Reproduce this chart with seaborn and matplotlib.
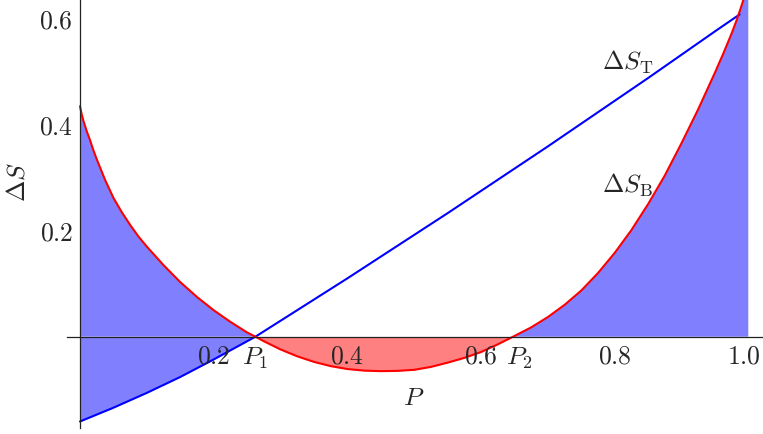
import numpy as np
import matplotlib
matplotlib.use("Agg")
import matplotlib.pyplot as plt
import matplotlib.transforms as mtransforms
import seaborn as sns

# values (P on x, Delta S on y)
p_red = [0.0, 0.0025, 0.005, 0.01, 0.015, 0.02, 0.025, 0.0375, 0.05, 0.0625, 0.075, 0.0875,
         0.10, 0.125, 0.15, 0.175, 0.20, 0.225, 0.25, 0.2625, 0.275, 0.30, 0.325, 0.35,
         0.375, 0.40, 0.425, 0.45, 0.475, 0.50, 0.525, 0.55, 0.575, 0.60, 0.625, 0.648,
         0.675, 0.70, 0.725, 0.75, 0.775, 0.80, 0.825, 0.85, 0.875, 0.90, 0.925, 0.95,
         0.9625, 0.975, 0.9825, 0.99, 0.995, 1.0]
ds_b = [0.435, 0.420, 0.408, 0.388, 0.371, 0.352, 0.335, 0.296, 0.262, 0.235, 0.211, 0.189,
        0.170, 0.135, 0.103, 0.075, 0.050, 0.028, 0.008, 0.0, -0.0085, -0.024, -0.037, -0.0475,
        -0.0555, -0.061, -0.064, -0.065, -0.0645, -0.0625, -0.057, -0.049, -0.040, -0.029, -0.0145, 0.0,
        0.0175, 0.037, 0.060, 0.087, 0.120, 0.158, 0.201, 0.250, 0.304, 0.365, 0.429, 0.498,
        0.534, 0.572, 0.597, 0.625, 0.645, 0.665]

p_blue = [0.0, 0.05, 0.10, 0.15, 0.20, 0.2625, 0.30, 0.35, 0.40, 0.45, 0.50, 0.55,
          0.60, 0.65, 0.70, 0.75, 0.80, 0.85, 0.90, 0.95, 0.987]
ds_t = [-0.160, -0.134, -0.106, -0.076, -0.043, 0.0, 0.030, 0.070, 0.110, 0.151, 0.192, 0.233,
        0.275, 0.317, 0.359, 0.402, 0.445, 0.488, 0.532, 0.576, 0.608]

x_major = [0.2, 0.4, 0.6, 0.8, 1.0]
x_labels = ["0.2", "0.4", "0.6", "0.8", "1.0"]
y_major = [0.2, 0.4, 0.6]
y_labels = ["0.2", "0.4", "0.6"]
x_minor = [0.05, 0.1, 0.15, 0.25, 0.3, 0.35, 0.45, 0.5, 0.55, 0.65, 0.7, 0.75, 0.85, 0.9, 0.95]
y_minor = [-0.15, -0.1, -0.05, 0.05, 0.1, 0.15, 0.25, 0.3, 0.35, 0.45, 0.5, 0.55]

sns.set_style("white")
plt.rcParams["mathtext.fontset"] = "cm"
plt.rcParams["font.family"] = ["DejaVu Serif"]

fig = plt.figure(figsize=(7.63, 4.34), dpi=100)
ax = fig.add_axes([0, 0, 1, 1])
ax.set_axisbelow(False)

pr = np.array(p_red)
br = np.array(ds_b)
pb = np.array(p_blue)
bt = np.array(ds_t)

# fills to the axis: blue where positive (red curve) / negative (blue curve), red below
ax.fill_between(pr, br, 0, where=br >= 0, interpolate=True, color="#8080ff", lw=0)
ax.fill_between(pr, br, 0, where=br <= 0, interpolate=True, color="#ff8080", lw=0)
ax.fill_between(pb, bt, 0, where=bt <= 0, interpolate=True, color="#8080ff", lw=0)

sns.lineplot(x=p_blue, y=ds_t, color="#0000ff", lw=1.5, ax=ax)
sns.lineplot(x=p_red, y=ds_b, color="#ff0000", lw=1.5, ax=ax)

ax.set_xlim(-0.1197, 1.022)
ax.set_ylim(-0.1836, 0.6353)

for s in ["top", "right"]:
    ax.spines[s].set_visible(False)
ax.spines["left"].set_position(("data", 0))
ax.spines["bottom"].set_position(("data", 0))
ax.spines["bottom"].set_bounds(-0.02, 1.022)
ax.spines["left"].set_bounds(-0.1725, 0.6353)
for s in ["left", "bottom"]:
    ax.spines[s].set_color("#222222")
    ax.spines[s].set_linewidth(0.9)

ax.set_xticks(x_major)
ax.set_xticklabels(["$" + t + "$" for t in x_labels])
ax.set_xticks(x_minor, minor=True)
ax.set_yticks(y_major)
ax.set_yticklabels(["$" + t + "$" for t in y_labels])
ax.set_yticks(y_minor, minor=True)
ax.tick_params(which="major", direction="in", length=4, width=0.8, labelsize=18.5, pad=5, color="#222222")
ax.tick_params(which="minor", direction="in", length=2.5, width=0.7, color="#222222")

# nudge the last x label so it stays inside the picture
last = ax.get_xticklabels()[-1]
last.set_transform(last.get_transform() + mtransforms.ScaledTranslation(-0.04, 0, fig.dpi_scale_trans))

# labels
ax.text(-0.095, 0.292, r"$\Delta S$", rotation=90, ha="center", va="center", fontsize=18.5)
ax.text(0.4998, -0.129, r"$P$", ha="center", va="baseline", fontsize=18.5)
ax.text(0.262, -0.053, r"$P_1$", ha="center", va="baseline", fontsize=18.5)
ax.text(0.658, -0.053, r"$P_2$", ha="center", va="baseline", fontsize=18.5)
ax.text(0.781, 0.503, r"$\Delta S_{\rm T}$", ha="left", va="baseline", fontsize=18.5)
ax.text(0.781, 0.272, r"$\Delta S_{\rm B}$", ha="left", va="baseline", fontsize=18.5)

fig.savefig("out.png", dpi=100)
